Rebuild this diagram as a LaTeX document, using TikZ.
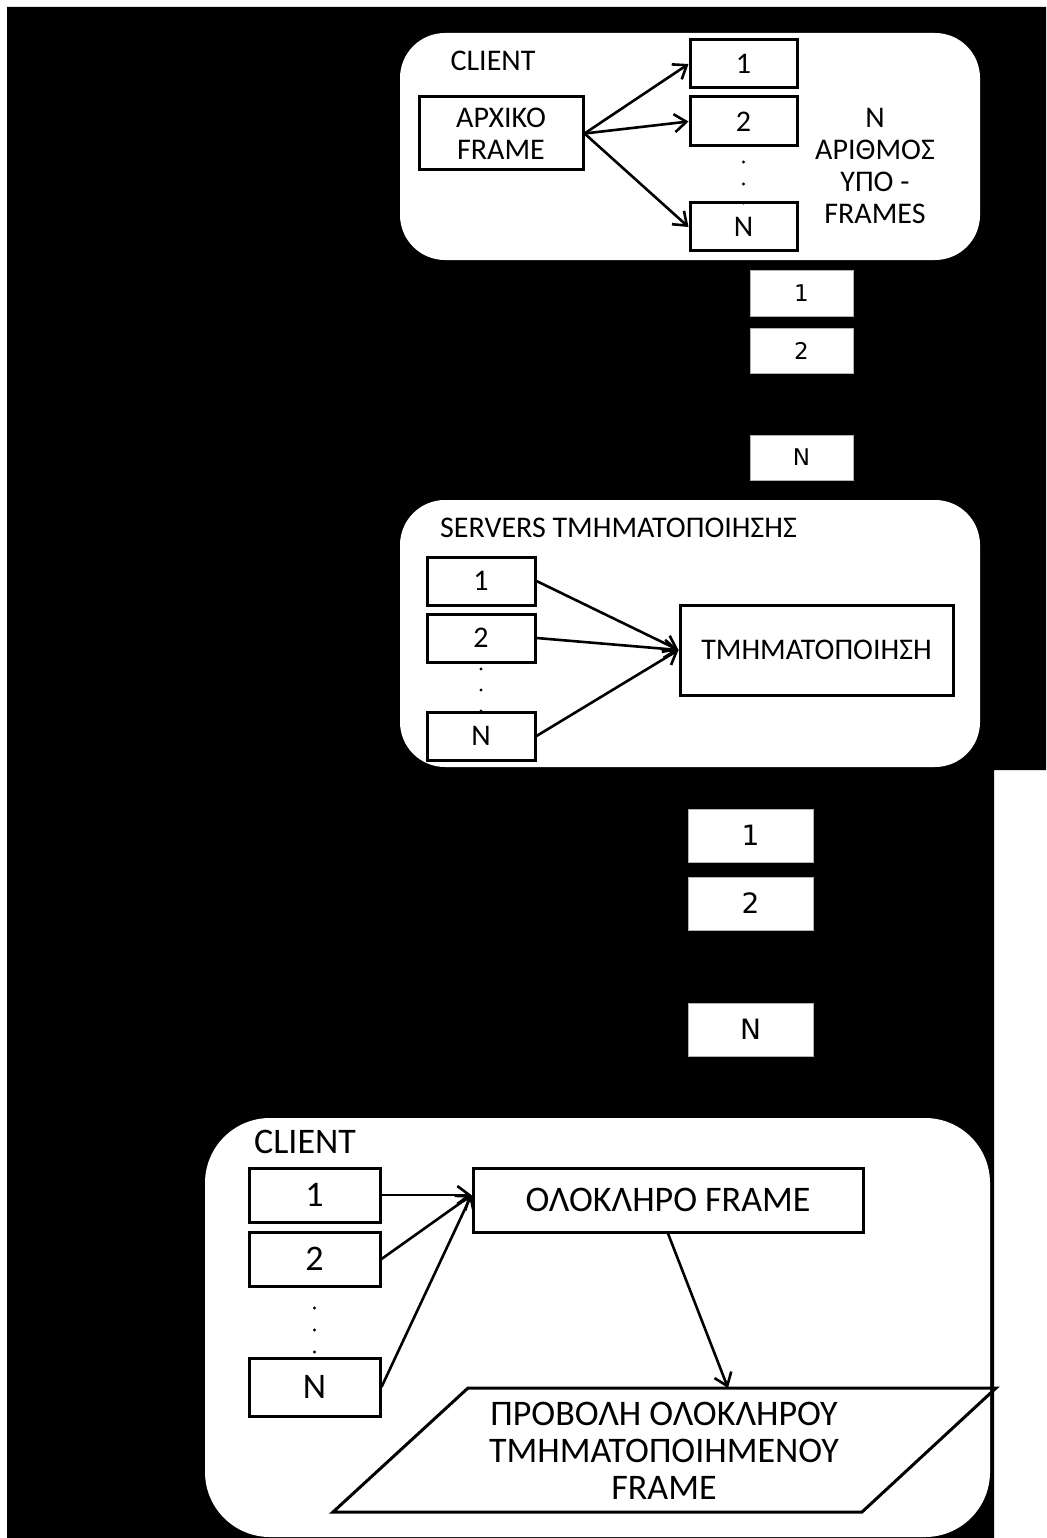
\documentclass[tikz,border=0pt]{standalone}
\usepackage{fontspec}
\setmainfont{Carlito}
\newfontfamily\dvsans{DejaVu Sans}
\usetikzlibrary{arrows.meta,calc,positioning}

\begin{document}
\begin{tikzpicture}[x=1pt,y=-1pt,>={Straight Barb[length=12pt,width=18pt]},
    every node/.style={align=center,inner sep=0pt},
    panel/.style={fill=white,rounded corners=#1},
    frm/.style={draw,line width=3pt,fill=white},
    tag/.style={fill=white,draw=gray!60,line width=0.8pt},
    flow/.style={->,line width=2.6pt}]
    \useasboundingbox (0,0) rectangle (1046,1538);
    \fill[white] (0,0) rectangle (1046,1538);
    \fill[black] (7,7) -- (1046,7) -- (1046,770) -- (994,770) -- (994,1538) -- (7,1538) -- cycle;

    % client: split the frame
    \node[panel=45,minimum width=580,minimum height=227] (top) at (690,146.5) {};
    \begin{scope}[every node/.append style={font=\fontsize{30}{32}\selectfont}]
    \node (client) at (493,61) {CLIENT};
    \node[frm,minimum width=164,minimum height=73] (arx) at (501,133.5) {ΑΡΧΙΚΟ\\FRAME};
    \node[frm,minimum width=107,minimum height=48] (t1) at (743.5,64) {1};
    \node[frm,minimum width=107,minimum height=49] (t2) at (743.5,121.5) {2};
    \node[frm,minimum width=107,minimum height=48] (tN) at (743.5,227) {N};
    \node (count) at (875,166) {N\\ΑΡΙΘΜΟΣ\\ΥΠΟ -\\FRAMES};
    \end{scope}
    \foreach \y in {162,184,203} \fill (743.5,\y) circle (1.6);
    \draw[flow] (arx.east) -- (t1.west);
    \draw[flow] (arx.east) -- (t2.west);
    \draw[flow] (arx.east) -- (tN.west);

    % sub-frames sent
    \begin{scope}[every node/.append style={font=\dvsans\fontsize{23}{25}\selectfont}]
    \node[tag,minimum width=103,minimum height=46] (fa1) at (801.5,293) {1};
    \node[tag,minimum width=103,minimum height=45] (fa2) at (801.5,350.5) {2};
    \node[tag,minimum width=103,minimum height=45] (faN) at (801.5,457.5) {N};
    \end{scope}

    % segmentation servers
    \node[panel=45,minimum width=580,minimum height=267] (mid) at (690,633.5) {};
    \begin{scope}[every node/.append style={font=\fontsize{30}{32}\selectfont}]
    \node[anchor=west] (srv) at (440,528) {SERVERS ΤΜΗΜΑΤΟΠΟΙΗΣΗΣ};
    \node[frm,minimum width=108,minimum height=48] (s1) at (481,581) {1};
    \node[frm,minimum width=108,minimum height=48] (s2) at (481,638) {2};
    \node[frm,minimum width=108,minimum height=48] (sN) at (481,736) {N};
    \node[frm,minimum width=273,minimum height=90] (seg) at (816.5,650) {ΤΜΗΜΑΤΟΠΟΙΗΣΗ};
    \end{scope}
    \foreach \y in {669,690,711} \fill (481,\y) circle (1.6);
    \draw[flow] (s1.east) -- (seg.west);
    \draw[flow] (s2.east) -- (seg.west);
    \draw[flow] (sN.east) -- (seg.west);

    % segmented sub-frames returned
    \begin{scope}[every node/.append style={font=\dvsans\fontsize{28}{30}\selectfont}]
    \node[tag,minimum width=125,minimum height=53] (fb1) at (750.5,835.5) {1};
    \node[tag,minimum width=125,minimum height=53] (fb2) at (750.5,903.5) {2};
    \node[tag,minimum width=125,minimum height=53] (fbN) at (750.5,1029.5) {N};
    \end{scope}

    % client: join and show
    \node[panel=65,minimum width=785,minimum height=419] (bot) at (597.5,1327.5) {};
    \begin{scope}[every node/.append style={font=\fontsize{36}{37}\selectfont}]
    \node (client2) at (305,1142) {CLIENT};
    \node[frm,minimum width=131,minimum height=54] (c1) at (314.5,1195) {1};
    \node[frm,minimum width=131,minimum height=54] (c2) at (314.5,1259) {2};
    \node[frm,minimum width=131,minimum height=58] (cN) at (314.5,1387) {N};
    \node[frm,minimum width=390,minimum height=64] (olo) at (668,1200) {ΟΛΟΚΛΗΡΟ FRAME};
    \draw[line width=3pt] (468,1388) -- (996,1388) -- (862,1512) -- (333,1512) -- cycle;
    \node (show) at (664,1451) {ΠΡΟΒΟΛΗ ΟΛΟΚΛΗΡΟΥ\\ΤΜΗΜΑΤΟΠΟΙΗΜΕΝΟΥ\\FRAME};
    \end{scope}
    \coordinate (oloin) at ($(olo.west)+(0,-5)$);
    \coordinate (showtop) at (728,1388);
    \foreach \y in {1308,1330,1352} \fill (314.5,\y) circle (1.6);
    \draw[flow] (c1.east) -- (oloin);
    \draw[flow] (c2.east) -- (oloin);
    \draw[flow] (cN.east) -- (oloin);
    \draw[flow] (olo.south) -- (showtop);
\end{tikzpicture}
\end{document}
